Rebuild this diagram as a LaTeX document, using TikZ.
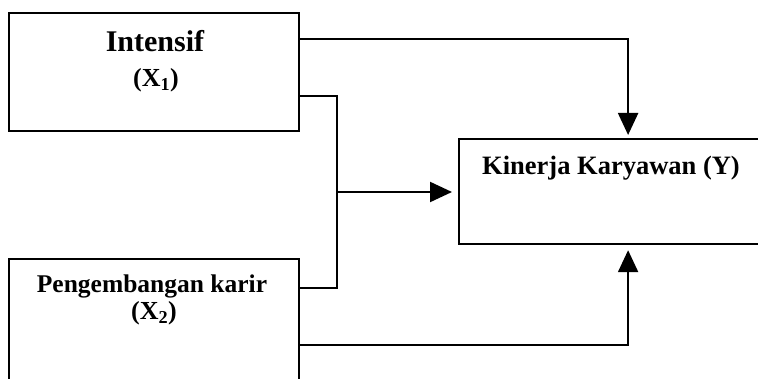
\documentclass[tikz,border=0pt]{standalone}
\usepackage{fontspec}
\setmainfont{Liberation Serif}
\usetikzlibrary{arrows.meta}

\tikzset{
  box/.style={draw, line width=2.2pt, rectangle, anchor=north west, inner sep=0pt},
  lbl/.style={anchor=base, inner sep=0pt, font=\bfseries},
  link/.style={draw, line width=2.2pt},
  arr/.style={link, -{Triangle[length=22pt,width=20pt]}}
}

\begin{document}
\begin{tikzpicture}[x=1pt, y=-1pt]
  \useasboundingbox (0,0) rectangle (758,379);
  \clip (0,0) rectangle (758,379);

  % variable boxes
  \node[box, minimum width=290pt, minimum height=118pt] (x1) at (8,12) {};
  \node[box, minimum width=290pt, minimum height=160pt] (x2) at (8,258) {};
  \node[box, minimum width=338pt, minimum height=105pt] (y) at (458,138) {};

  % box labels
  \node[lbl, font=\fontsize{30}{31}\selectfont\bfseries] (t1) at (155,52) {Intensif};
  \node[lbl, font=\fontsize{26}{27}\selectfont\bfseries] (s1) at (156,87) {(X\textsubscript{1})};
  \node[lbl, font=\fontsize{25.5}{26}\selectfont\bfseries] (t2) at (152,293) {Pengembangan karir};
  \node[lbl, font=\fontsize{26}{27}\selectfont\bfseries] (s2) at (154,320) {(X\textsubscript{2})};
  \node[lbl, font=\fontsize{26.5}{28}\selectfont\bfseries] (ty) at (611,175) {Kinerja Karyawan (Y)};

  % junction of the joint path
  \coordinate (jt) at (337,96);
  \coordinate (jb) at (337,288);
  \coordinate (jm) at (337,192);

  % X1 -> Y
  \draw[arr, shorten >=3pt] (x1.east |- 0,39) -| (y.north);
  % X1 and X2 together -> Y
  \draw[link] (x1.east |- jt) -- (jt) -- (jb) -- (x2.east |- jb);
  \draw[arr, shorten >=6pt] (jm) -- (jm -| y.west);
  % X2 -> Y
  \draw[arr, shorten >=5pt] (x2.east |- 0,345) -| (y.south);
\end{tikzpicture}
\end{document}
